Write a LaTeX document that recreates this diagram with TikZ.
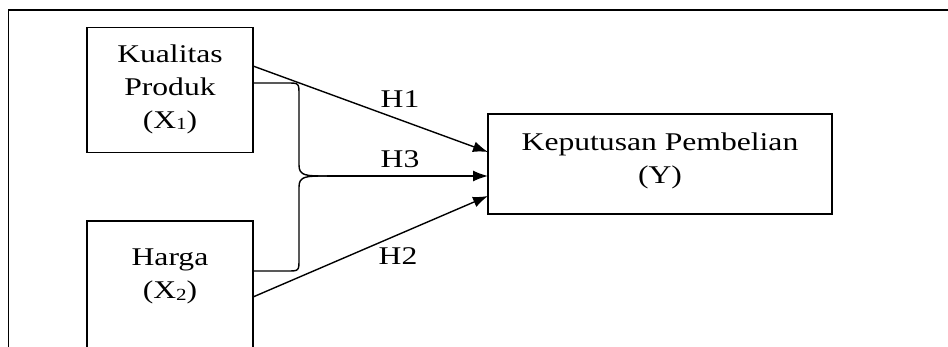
\documentclass[tikz,border=0pt]{standalone}
\usepackage{fontspec}
\setmainfont{Liberation Serif}
\usetikzlibrary{arrows.meta,calc}
\newcommand{\hstr}[1]{\scalebox{1.24}[1]{#1}}
\newcommand{\lowsub}[1]{\raisebox{-1.5pt}{\fontsize{17}{17}\selectfont #1}}
\begin{document}
\begin{tikzpicture}[x=1pt,y=-1pt,
  box/.style={draw,line width=1.6pt,rectangle,inner sep=0pt,outer sep=0pt},
  txt/.style={inner sep=0pt,align=center,font=\fontsize{25.5}{33}\selectfont},
  arr/.style={line width=1.4pt,-{Latex[length=15pt,width=11pt]}},
  ln/.style={line width=1.4pt}]
\useasboundingbox (0,0) rectangle (948,347);
\fill[white] (0,0) rectangle (948,347);
% frame
\draw[line width=1.6pt] (948,10) -- (8.5,10) -- (8.5,350);
% boxes
\node[box,minimum width=166pt,minimum height=125pt] (x1) at (170,90) {};
\node[box,minimum width=166pt,minimum height=128pt] (x2) at (170,285) {};
\node[box,minimum width=344pt,minimum height=100pt] (y) at (660,164) {};
% texts
\node[txt] (tx1) at (170,89) {\hstr{Kualitas}\\\hstr{Produk}\\\hstr{(X\lowsub{1})}};
\node[txt] (tx2) at (170,276.7) {\hstr{Harga}\\\hstr{(X\lowsub{2})}};
\node[txt] (ty) at (660,160.7) {\hstr{Keputusan Pembelian}\\\hstr{(Y)}};
% connectors
\coordinate (j) at (327,176);
\draw[arr] ([yshift=-38.5pt]x1.north east) -- ([yshift=12pt]y.west);
\draw[arr] ([yshift=52pt]x2.south east) -- ([yshift=-32pt]y.west);
\draw[ln] ([yshift=-55.5pt]x1.north east) -- (287,83) .. controls (299,83) .. (299,95)
  -- (299,165) .. controls (299,176) and (306,176) .. (j);
\draw[ln] ([yshift=-50pt]x2.north east) -- (287,271) .. controls (299,271) .. (299,259)
  -- (299,187) .. controls (299,176) and (306,176) .. (j);
\draw[arr] (j) -- ([yshift=-12pt]y.west);
% labels
\node[txt,anchor=base] (h1) at (400,108) {\hstr{H1}};
\node[txt,anchor=base] (h3) at (400,168) {\hstr{H3}};
\node[txt,anchor=base] (h2) at (398,265) {\hstr{H2}};
\end{tikzpicture}
\end{document}
